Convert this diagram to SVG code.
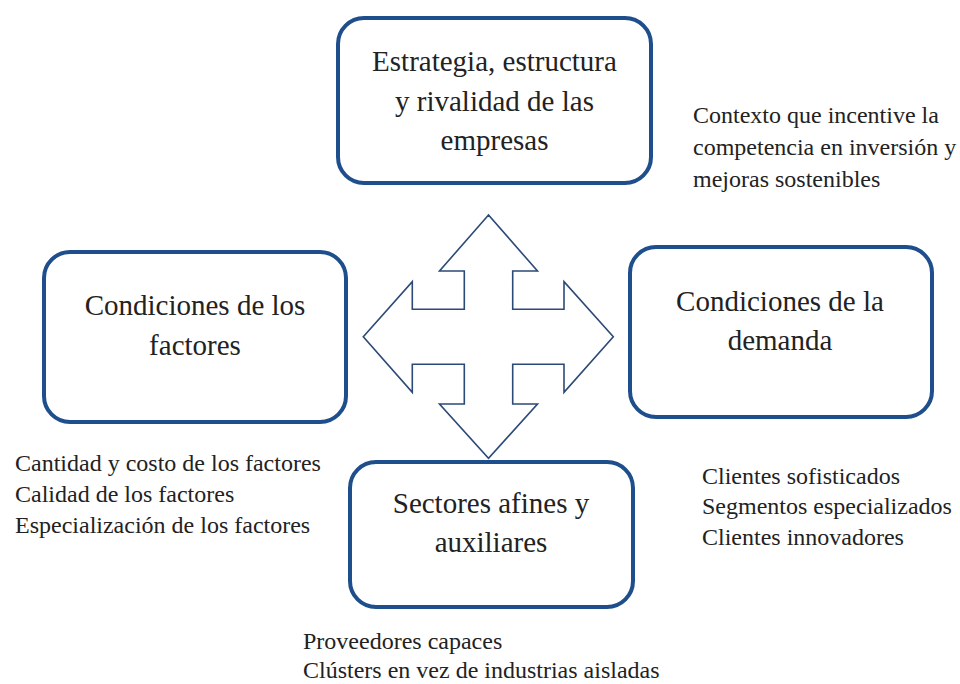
<svg xmlns="http://www.w3.org/2000/svg" width="960" height="684" viewBox="0 0 960 684">
<style>
.box{fill:#ffffff;stroke:#1e4f8c;stroke-width:4}
.lbl{font-family:"Liberation Serif","Times New Roman",serif;font-size:29px;fill:#222222;text-anchor:middle}
.note{font-family:"Liberation Serif","Times New Roman",serif;font-size:24px;fill:#222222}
.arrow{fill:#ffffff;stroke:#2c4a78;stroke-width:1.6;stroke-linejoin:miter}
</style>
<rect width="960" height="684" fill="#ffffff"/>
<g id="connectors">
<polygon class="arrow" points="488.5,215 439.5,271 464.3,271 464.3,309.3 412.3,309.3 412.3,281.7 363.3,336.7 412.3,392.3 412.3,364.3 464.3,364.3 464.3,404 439.5,404 488.5,458.3 537.5,404 512.7,404 512.7,364.3 564,364.3 564,392.3 613.3,336.7 564,281.7 564,309.3 512.7,309.3 512.7,271 537.5,271"/>
</g>
<g id="estrategia">
<rect class="box" x="338" y="18" width="313" height="165" rx="26"/>
<text class="lbl" x="494.5" y="71">Estrategia, estructura</text>
<text class="lbl" x="494.5" y="111">y rivalidad de las</text>
<text class="lbl" x="494.5" y="150">empresas</text>
</g>
<g id="factores">
<rect class="box" x="44" y="252" width="302" height="170" rx="26"/>
<text class="lbl" x="195" y="315">Condiciones de los</text>
<text class="lbl" x="195" y="355">factores</text>
</g>
<g id="demanda">
<rect class="box" x="630" y="247" width="302" height="170" rx="26"/>
<text class="lbl" x="780" y="311">Condiciones de la</text>
<text class="lbl" x="780" y="350">demanda</text>
</g>
<g id="sectores">
<rect class="box" x="350" y="462" width="283" height="145" rx="26"/>
<text class="lbl" x="491" y="513">Sectores afines y</text>
<text class="lbl" x="491" y="552">auxiliares</text>
</g>
<g id="nota-estrategia">
<text class="note" x="693" y="123" font-size="23.5">Contexto que incentive la</text>
<text class="note" x="693" y="155" font-size="23.5">competencia en inversión y</text>
<text class="note" x="693" y="187" font-size="23.5">mejoras sostenibles</text>
</g>
<g id="nota-factores">
<text class="note" x="15" y="471">Cantidad y costo de los factores</text>
<text class="note" x="15" y="502">Calidad de los factores</text>
<text class="note" x="15" y="533">Especialización de los factores</text>
</g>
<g id="nota-demanda">
<text class="note" x="702" y="484" font-size="25">Clientes sofisticados</text>
<text class="note" x="702" y="514" font-size="25">Segmentos especializados</text>
<text class="note" x="702" y="545" font-size="25">Clientes innovadores</text>
</g>
<g id="nota-sectores">
<text class="note" x="303" y="649" font-size="24.5">Proveedores capaces</text>
<text class="note" x="303" y="678" font-size="24.5">Clústers en vez de industrias aisladas</text>
</g>
</svg>
